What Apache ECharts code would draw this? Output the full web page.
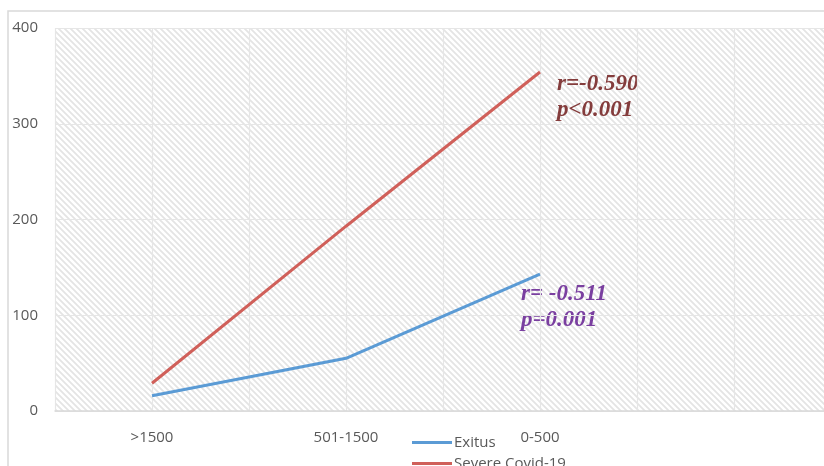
<!DOCTYPE html>
<html><head><meta charset="utf-8">
<script src="https://cdn.jsdelivr.net/npm/echarts@6/dist/echarts.min.js"></script>
<style>html,body{margin:0;padding:0;background:#fff;}#c{width:824px;height:466px;}</style>
</head><body><div id="c"></div>
<script>
var categories = ['>1500', '501-1500', '0-500', ''];
var gridCategories = ['', '', '', '', '', '', '', ''];
var exitus = [16, 55, 143, null];
var severe = [29, 193, 354, null];
var yTicks = [0, 100, 200, 300, 400];

var pc = document.createElement('canvas');
pc.width = 6; pc.height = 6;
var g = pc.getContext('2d');
g.fillStyle = '#ffffff'; g.fillRect(0, 0, 6, 6);
g.strokeStyle = '#e4e4e4'; g.lineWidth = 1.8;
g.beginPath();
g.moveTo(-1, -1); g.lineTo(7, 7);
g.moveTo(-4, 2); g.lineTo(4, 10);
g.moveTo(2, -4); g.lineTo(10, 4);
g.stroke();

var chart = echarts.init(document.getElementById('c'));
var lbl = {color: '#595959', fontSize: 15, fontFamily: 'Open Sans'};
var legendText = {color: '#595959', fontSize: 15, fontFamily: 'Open Sans', padding: [0, 0, 0, -3]};
chart.setOption({
  animation: false,
  grid: {left: 55, top: 28, width: 776, height: 383, show: true, outerBoundsMode: 'none', containLabel: false, backgroundColor: {image: pc, repeat: 'repeat'}, borderWidth: 0},
  xAxis: [{
    type: 'category', data: categories, boundaryGap: true,
    axisLine: {lineStyle: {color: '#d9d9d9', width: 1.5}},
    axisTick: {show: false},
    axisLabel: Object.assign({margin: 19, interval: 0}, lbl),
    splitLine: {show: false}
  }, {
    type: 'category', data: gridCategories, boundaryGap: true, position: 'bottom',
    axisLine: {show: false}, axisTick: {show: false}, axisLabel: {show: false},
    splitLine: {show: true, interval: 0, lineStyle: {color: '#e6e6e6', width: 1.2}}
  }],
  yAxis: {
    type: 'value', min: yTicks[0], max: yTicks[yTicks.length - 1], interval: 100,
    axisLine: {show: false}, axisTick: {show: false},
    axisLabel: Object.assign({margin: 17, padding: [4, 0, 0, 0]}, lbl),
    splitLine: {lineStyle: {color: '#e6e6e6', width: 1.2}}
  },
  legend: [
    {left: 407, top: 430, itemWidth: 40, itemHeight: 3, icon: 'rect', textStyle: legendText, data: ['Exitus']},
    {left: 407, top: 451, itemWidth: 40, itemHeight: 3, icon: 'rect', textStyle: legendText, data: ['Severe Covid-19']}
  ],
  series: [
    {name: 'Exitus', type: 'line', data: exitus, showSymbol: false, symbol: 'none', lineStyle: {color: '#5b9bd5', width: 3}, itemStyle: {color: '#5b9bd5'}},
    {name: 'Severe Covid-19', type: 'line', data: severe, showSymbol: false, symbol: 'none', lineStyle: {color: '#d0605a', width: 3}, itemStyle: {color: '#d0605a'}}
  ],
  graphic: [
    {type: 'rect', shape: {x: 8, y: 11, width: 830, height: 470}, style: {fill: 'none', stroke: '#d9d9d9', lineWidth: 1.5}, silent: true},
    {type: 'text', left: 557, top: 71, style: {text: 'r=-0.590\np<0.001', fill: '#843c3c', fontFamily: 'Liberation Serif', fontStyle: 'italic', fontWeight: 'bold', fontSize: 23, lineHeight: 26}},
    {type: 'text', left: 521, top: 281, style: {text: 'r= -0.511\np=0.001', fill: '#7a3fa0', fontFamily: 'Liberation Serif', fontStyle: 'italic', fontWeight: 'bold', fontSize: 23, lineHeight: 26}}
  ]
});
</script></body></html>
